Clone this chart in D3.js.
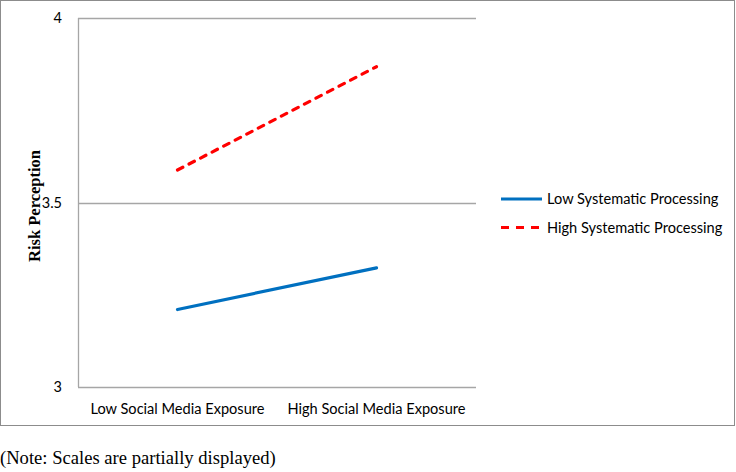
<!DOCTYPE html>
<html>
<head>
<meta charset="utf-8">
<script src="https://cdn.jsdelivr.net/npm/d3@7"></script>
<style>
  html, body { margin: 0; padding: 0; background: #fff; }
  svg { display: block; }
</style>
</head>
<body>
<div id="chart"></div>
<script>
const categories = ["Low Social Media Exposure", "High Social Media Exposure"];
const seriesNames = ["Low Systematic Processing", "High Systematic Processing"];
const lowSystematic = [3.21, 3.323];
const highSystematic = [3.588, 3.868];
const yTicks = [3, 3.5, 4];
const yTickLabels = ["3", "3.5", "4"];
const yTitle = "Risk Perception";
const note = "(Note: Scales are partially displayed)";

const W = 736, H = 472;
const svg = d3.select("#chart").append("svg").attr("width", W).attr("height", H);

// outer frame
svg.append("rect").attr("x", 0.5).attr("y", 0.5).attr("width", 734).attr("height", 425)
  .attr("fill", "none").attr("stroke", "#8c8c8c").attr("stroke-width", 1);

const plot = { left: 78, right: 476, top: 18, bottom: 387 };
const x = d3.scaleBand().domain(categories).range([plot.left, plot.right]);
const y = d3.scaleLinear().domain([3, 4]).range([plot.bottom, plot.top]);

// gridlines
svg.append("g").selectAll("line").data(yTicks.filter(t => t > 3)).join("line")
  .attr("x1", plot.left).attr("x2", plot.right)
  .attr("y1", d => Math.round(y(d)) + 0.5).attr("y2", d => Math.round(y(d)) + 0.5)
  .attr("stroke", "#a6a6a6").attr("stroke-width", 1.3);

// axes lines
svg.append("line").attr("x1", plot.left + 0.5).attr("x2", plot.left + 0.5)
  .attr("y1", plot.top).attr("y2", plot.bottom).attr("stroke", "#a6a6a6").attr("stroke-width", 1.3);
svg.append("line").attr("x1", plot.left).attr("x2", plot.right)
  .attr("y1", plot.bottom + 0.5).attr("y2", plot.bottom + 0.5).attr("stroke", "#a6a6a6").attr("stroke-width", 1.3);

// y tick labels
svg.append("g").selectAll("text").data(yTicks).join("text")
  .attr("x", 62).attr("y", d => y(d)).attr("dy", "0.35em")
  .attr("text-anchor", "end")
  .attr("font-family", "Lato, 'Open Sans', sans-serif").attr("font-size", 14.5).attr("fill", "#000")
  .text((d, i) => yTickLabels[i]);

// x labels
svg.append("g").selectAll("text").data(categories).join("text")
  .attr("x", d => x(d) + x.bandwidth() / 2).attr("y", 414)
  .attr("text-anchor", "middle")
  .attr("font-family", "Lato, 'Open Sans', sans-serif").attr("font-size", 14.6).attr("fill", "#000")
  .text(d => d);

// y title
svg.append("text")
  .attr("transform", `translate(40,206) rotate(-90)`)
  .attr("text-anchor", "middle")
  .attr("font-family", "'Liberation Serif', 'Times New Roman', serif")
  .attr("font-weight", "bold").attr("font-size", 16.5).attr("fill", "#000")
  .text(yTitle);

// lines
const line = d3.line().x((d, i) => x(categories[i]) + x.bandwidth() / 2).y(d => y(d));
const series = [
  { name: seriesNames[0], values: lowSystematic, color: "#0070C0", dash: null },
  { name: seriesNames[1], values: highSystematic, color: "#FF0000", dash: "6,7" }
];
svg.append("g").selectAll("path").data(series).join("path")
  .attr("d", d => line(d.values))
  .attr("fill", "none").attr("stroke", d => d.color).attr("stroke-width", 3.2)
  .attr("stroke-linecap", "round")
  .attr("stroke-dasharray", d => d.dash);

// legend
const lg = svg.append("g").selectAll("g").data(series).join("g")
  .attr("transform", (d, i) => `translate(501,${199 + i * 28.5})`);
lg.append("line").attr("x1", 0).attr("x2", 41).attr("y1", 0).attr("y2", 0)
  .attr("stroke", d => d.color).attr("stroke-width", 3.2)
  .attr("stroke-dasharray", d => d.dash ? "8,7" : null);
lg.append("text").attr("x", 46).attr("y", 0).attr("dy", "0.35em")
  .attr("font-family", "Lato, 'Open Sans', sans-serif").attr("font-size", 14.6).attr("fill", "#000")
  .text(d => d.name);

// note
svg.append("text").attr("x", 0).attr("y", 464)
  .attr("font-family", "'Liberation Serif', 'Times New Roman', serif")
  .attr("font-size", 18.6).attr("fill", "#000")
  .text(note);
</script>
</body>
</html>
